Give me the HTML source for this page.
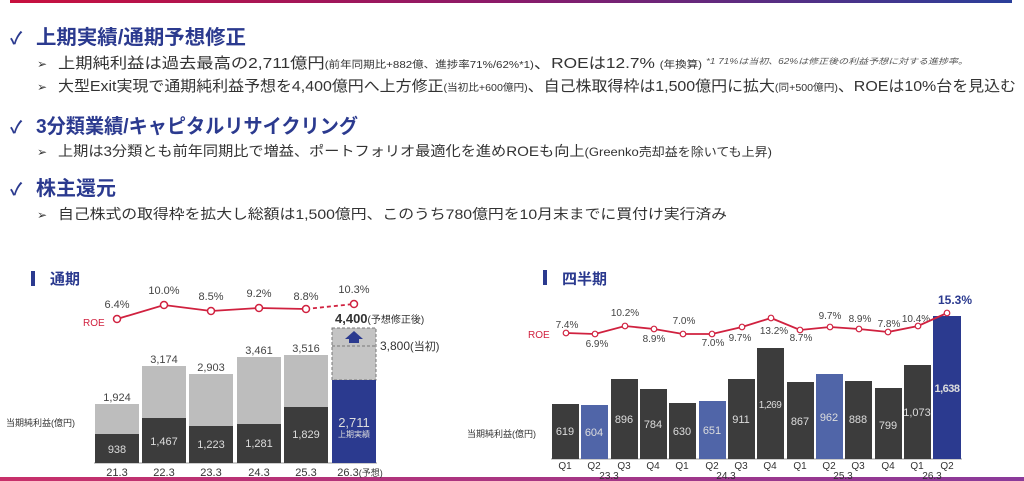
<!DOCTYPE html>
<html><head><meta charset="utf-8"><style>
html,body{margin:0;padding:0;background:#fff;}
svg{display:block;font-family:"Liberation Sans","Noto Sans CJK JP",sans-serif;}
</style></head><body>
<svg width="1024" height="481" viewBox="0 0 1024 481" xmlns="http://www.w3.org/2000/svg">
<defs>
<linearGradient id="g" x1="0" x2="1"><stop offset="0" stop-color="#c8103e"/><stop offset="0.5" stop-color="#8a1a6a"/><stop offset="1" stop-color="#2a3f9a"/></linearGradient>
<linearGradient id="g2" x1="0" x2="1"><stop offset="0" stop-color="#c8306a"/><stop offset="1" stop-color="#8a3a9a"/></linearGradient>
</defs>
<rect x="10" y="0" width="1002" height="3" fill="url(#g)"/>
<rect x="0" y="477" width="1024" height="4" fill="url(#g2)"/>

<!-- Headings -->
<g fill="#2b3a8f" font-weight="bold">
<text x="10" y="44" font-size="17">✓</text>
<text x="36" y="44" font-size="20" textLength="210" lengthAdjust="spacingAndGlyphs">上期実績/通期予想修正</text>
<text x="10" y="133" font-size="17">✓</text>
<text x="36" y="133" font-size="20" textLength="322" lengthAdjust="spacingAndGlyphs">3分類業績/キャピタルリサイクリング</text>
<text x="10" y="195" font-size="17">✓</text>
<text x="36" y="195" font-size="20" textLength="80" lengthAdjust="spacingAndGlyphs">株主還元</text>
</g>
<g fill="#333">
<text x="37" y="68" font-size="12">➢</text>
<text x="58" y="68" font-size="15" textLength="644" lengthAdjust="spacingAndGlyphs">上期純利益は過去最高の2,711億円<tspan font-size="10">(前年同期比+882億、進捗率71%/62%*1)</tspan>、ROEは12.7% <tspan font-size="10">(年換算)</tspan></text>
<text x="706" y="64" font-size="8" font-style="italic" fill="#555" textLength="262" lengthAdjust="spacingAndGlyphs">*1 71%は当初、62%は修正後の利益予想に対する進捗率。</text>
<text x="37" y="91" font-size="12">➢</text>
<text x="58" y="91" font-size="15" textLength="958" lengthAdjust="spacingAndGlyphs">大型Exit実現で通期純利益予想を4,400億円へ上方修正<tspan font-size="10">(当初比+600億円)</tspan>、自己株取得枠は1,500億円に拡大<tspan font-size="10">(同+500億円)</tspan>、ROEは10%台を見込む</text>
<text x="37" y="156" font-size="12">➢</text>
<text x="58" y="156" font-size="14" textLength="714" lengthAdjust="spacingAndGlyphs">上期は3分類とも前年同期比で増益、ポートフォリオ最適化を進めROEも向上<tspan font-size="12">(Greenko売却益を除いても上昇)</tspan></text>
<text x="37" y="219" font-size="12">➢</text>
<text x="58" y="219" font-size="14" textLength="669" lengthAdjust="spacingAndGlyphs">自己株式の取得枠を拡大し総額は1,500億円、このうち780億円を10月末までに買付け実行済み</text>
</g>

<!-- Left chart -->
<rect x="31" y="271" width="4" height="15" fill="#2b3a8f"/>
<text x="50" y="284" font-size="15" fill="#2b3a8f" font-weight="bold">通期</text>
<text x="6" y="426" font-size="9" fill="#333">当期純利益(億円)</text>
<text x="83" y="326" font-size="10" fill="#d0213f">ROE</text>
<line x1="94" y1="463" x2="377" y2="463" stroke="#999" stroke-width="1"/>
<g>
<rect x="95" y="404" width="44" height="30" fill="#bdbdbd"/><rect x="95" y="434" width="44" height="29" fill="#3c3c3c"/>
<rect x="142" y="366" width="44" height="52" fill="#bdbdbd"/><rect x="142" y="418" width="44" height="45" fill="#3c3c3c"/>
<rect x="189" y="374" width="44" height="52" fill="#bdbdbd"/><rect x="189" y="426" width="44" height="37" fill="#3c3c3c"/>
<rect x="237" y="357" width="44" height="67" fill="#bdbdbd"/><rect x="237" y="424" width="44" height="39" fill="#3c3c3c"/>
<rect x="284" y="355" width="44" height="52" fill="#bdbdbd"/><rect x="284" y="407" width="44" height="56" fill="#3c3c3c"/>
<rect x="332" y="328" width="44" height="52" fill="#c4c4c4" stroke="#777" stroke-dasharray="3,2"/>
<line x1="332" y1="346" x2="376" y2="346" stroke="#777" stroke-dasharray="3,2"/>
<rect x="332" y="380" width="44" height="83" fill="#2b3a8f"/>
<path d="M349 343 h10 v-4 h4 l-9 -8 l-9 8 h4 z" fill="#2b3a8f"/>
</g>
<g font-size="11" fill="#444" text-anchor="middle">
<text x="117" y="401">1,924</text><text x="164" y="363">3,174</text><text x="211" y="371">2,903</text><text x="259" y="354">3,461</text><text x="306" y="352">3,516</text>
<text x="117" y="453" fill="#ddd">938</text><text x="164" y="445" fill="#ddd">1,467</text><text x="211" y="448" fill="#ddd">1,223</text><text x="259" y="447" fill="#ddd">1,281</text><text x="306" y="438" fill="#ddd">1,829</text>
<text x="354" y="427" fill="#ddd" font-size="13">2,711</text><text x="354" y="437" fill="#ddd" font-size="8">上期実績</text>
<text x="117" y="476" fill="#333">21.3</text><text x="164" y="476" fill="#333">22.3</text><text x="211" y="476" fill="#333">23.3</text><text x="259" y="476" fill="#333">24.3</text><text x="306" y="476" fill="#333">25.3</text><text x="360" y="476" fill="#333">26.3<tspan font-size="9">(予想)</tspan></text>
<text x="117" y="308">6.4%</text><text x="164" y="294">10.0%</text><text x="211" y="300">8.5%</text><text x="259" y="297">9.2%</text><text x="306" y="300">8.8%</text><text x="354" y="293">10.3%</text>
</g>
<text x="335" y="323" font-size="13" font-weight="bold" fill="#333">4,400<tspan font-size="10" font-weight="normal">(予想修正後)</tspan></text>
<text x="380" y="350" font-size="12" fill="#333">3,800<tspan font-size="11">(当初)</tspan></text>
<polyline points="117,319 164,305 211,311 259,308 306,309" fill="none" stroke="#d0213f" stroke-width="1.8"/>
<line x1="306" y1="309" x2="354" y2="304" stroke="#d0213f" stroke-width="1.8" stroke-dasharray="4,3"/>
<g fill="#fff" stroke="#d0213f" stroke-width="1.5">
<circle cx="117" cy="319" r="3.5"/><circle cx="164" cy="305" r="3.5"/><circle cx="211" cy="311" r="3.5"/><circle cx="259" cy="308" r="3.5"/><circle cx="306" cy="309" r="3.5"/><circle cx="354" cy="304" r="3.5"/>
</g>

<!-- Right chart -->
<rect x="543" y="270" width="4" height="15" fill="#2b3a8f"/>
<text x="562" y="284" font-size="15" fill="#2b3a8f" font-weight="bold">四半期</text>
<text x="467" y="437" font-size="9" fill="#333">当期純利益(億円)</text>
<text x="528" y="338" font-size="10" fill="#d0213f">ROE</text>
<line x1="551" y1="459" x2="962" y2="459" stroke="#999"/>
<g>
<rect x="552" y="404" width="27" height="55" fill="#3c3c3c"/>
<rect x="581" y="405" width="27" height="54" fill="#5065a8"/>
<rect x="611" y="379" width="27" height="80" fill="#3c3c3c"/>
<rect x="640" y="389" width="27" height="70" fill="#3c3c3c"/>
<rect x="669" y="403" width="27" height="56" fill="#3c3c3c"/>
<rect x="699" y="401" width="27" height="58" fill="#5065a8"/>
<rect x="728" y="379" width="27" height="80" fill="#3c3c3c"/>
<rect x="757" y="348" width="27" height="111" fill="#3c3c3c"/>
<rect x="787" y="382" width="27" height="77" fill="#3c3c3c"/>
<rect x="816" y="374" width="27" height="85" fill="#5065a8"/>
<rect x="845" y="381" width="27" height="78" fill="#3c3c3c"/>
<rect x="875" y="388" width="27" height="71" fill="#3c3c3c"/>
<rect x="904" y="365" width="27" height="94" fill="#3c3c3c"/>
<rect x="933" y="316" width="28" height="143" fill="#2b3a8f"/>
</g>
<g font-size="11" fill="#ddd" text-anchor="middle">
<text x="565" y="435">619</text><text x="594" y="436">604</text><text x="624" y="423">896</text><text x="653" y="428">784</text><text x="682" y="435">630</text><text x="712" y="434">651</text><text x="741" y="423">911</text><text x="770" y="408" font-size="10" letter-spacing="-0.5">1,269</text><text x="800" y="425">867</text><text x="829" y="421">962</text><text x="858" y="423">888</text><text x="888" y="429">799</text><text x="917" y="416">1,073</text><text x="947" y="392" font-weight="bold" letter-spacing="-0.5">1,638</text>
</g>
<g font-size="10" fill="#333" text-anchor="middle">
<text x="565" y="469">Q1</text><text x="594" y="469">Q2</text><text x="624" y="469">Q3</text><text x="653" y="469">Q4</text><text x="682" y="469">Q1</text><text x="712" y="469">Q2</text><text x="741" y="469">Q3</text><text x="770" y="469">Q4</text><text x="800" y="469">Q1</text><text x="829" y="469">Q2</text><text x="858" y="469">Q3</text><text x="888" y="469">Q4</text><text x="917" y="469">Q1</text><text x="947" y="469">Q2</text>
<text x="609" y="479">23.3</text><text x="726" y="479">24.3</text><text x="843" y="479">25.3</text><text x="932" y="479">26.3</text>
</g>
<g font-size="10" fill="#444" text-anchor="middle">
<text x="567" y="328">7.4%</text><text x="597" y="347">6.9%</text><text x="625" y="316">10.2%</text><text x="654" y="342">8.9%</text><text x="684" y="324">7.0%</text><text x="713" y="346">7.0%</text><text x="740" y="341">9.7%</text><text x="774" y="334">13.2%</text><text x="801" y="341">8.7%</text><text x="830" y="319">9.7%</text><text x="860" y="322">8.9%</text><text x="889" y="327">7.8%</text><text x="916" y="322">10.4%</text>
</g>
<text x="972" y="304" font-size="12" font-weight="bold" fill="#2b3a8f" text-anchor="end">15.3%</text>
<polyline points="566,333 595,334 625,326 654,329 683,334 712,334 742,327 771,318 800,330 830,327 859,329 888,332 918,326 947,313" fill="none" stroke="#d0213f" stroke-width="1.8"/>
<g fill="#fff" stroke="#d0213f" stroke-width="1.2">
<circle cx="566" cy="333" r="2.8"/><circle cx="595" cy="334" r="2.8"/><circle cx="625" cy="326" r="2.8"/><circle cx="654" cy="329" r="2.8"/><circle cx="683" cy="334" r="2.8"/><circle cx="712" cy="334" r="2.8"/><circle cx="742" cy="327" r="2.8"/><circle cx="771" cy="318" r="2.8"/><circle cx="800" cy="330" r="2.8"/><circle cx="830" cy="327" r="2.8"/><circle cx="859" cy="329" r="2.8"/><circle cx="888" cy="332" r="2.8"/><circle cx="918" cy="326" r="2.8"/><circle cx="947" cy="313" r="2.8"/>
</g>
</svg>
</body></html>
